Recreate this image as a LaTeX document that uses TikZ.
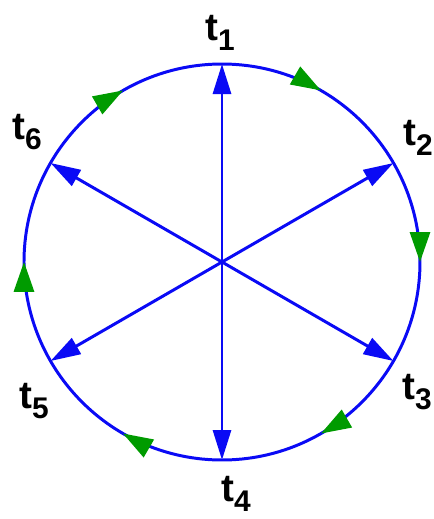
\documentclass[tikz,border=0pt]{standalone}
\usepackage{fontspec}
\setmainfont{Liberation Sans}
\usetikzlibrary{arrows.meta,decorations.markings}
\definecolor{lineblue}{RGB}{10,10,245}
\definecolor{flowgreen}{RGB}{0,155,0}
\newcommand{\tsub}[1]{t\raisebox{-6pt}{\fontsize{17}{20}\selectfont #1}}

\begin{document}
\begin{tikzpicture}[
  spoke/.style={draw=lineblue, line width=1.7pt, -{Triangle[length=6mm,width=3.6mm]}},
  rim/.style={draw=lineblue, line width=1.7pt, postaction={decorate},
    decoration={markings, mark=between positions 0.0833 and 1 step 0.1667
      with {\arrow{Triangle[length=6mm,width=4mm,color=flowgreen]}}}},
  tname/.style={font=\fontsize{22}{26}\selectfont\bfseries, inner sep=0pt}
]
\useasboundingbox (-4.44,-5.14) rectangle (4.24,5.24);
\def\R{3.96}
\coordinate (O) at (0,0);
\coordinate (P1) at (90:\R); \coordinate (P2) at (30:\R); \coordinate (P3) at (-30:\R);
\coordinate (P4) at (-90:\R); \coordinate (P5) at (210:\R); \coordinate (P6) at (150:\R);
\draw[rim] (P1) arc[start angle=90, end angle=-270, radius=\R];
\foreach \n in {1,...,6} \draw[spoke] (O) -- (P\n);
\node[tname] (t1) at (-0.04,4.58) {\tsub{1}};
\node[tname] (t2) at (3.92,2.48) {\tsub{2}};
\node[tname] (t3) at (3.90,-2.60) {\tsub{3}};
\node[tname] (t4) at (0.28,-4.64) {\tsub{4}};
\node[tname] (t5) at (-3.76,-2.78) {\tsub{5}};
\node[tname] (t6) at (-3.90,2.60) {\tsub{6}};
\end{tikzpicture}
\end{document}
